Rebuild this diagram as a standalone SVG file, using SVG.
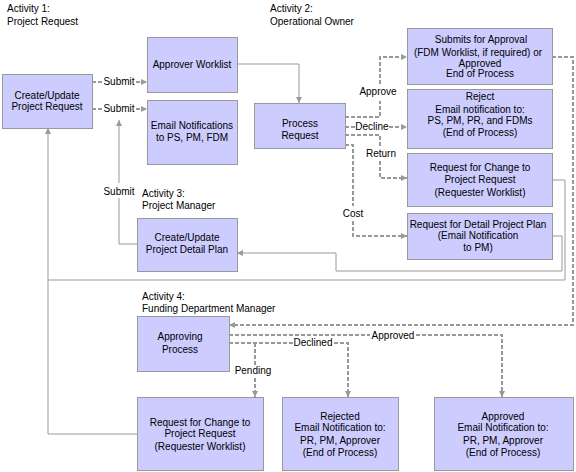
<svg xmlns="http://www.w3.org/2000/svg" width="576" height="472" viewBox="0 0 576 472">
<defs>
<style>
text{font-family:"Liberation Sans",Arial,sans-serif;font-size:10px;fill:#000}
.c{text-anchor:middle}
.box{fill:#CCCCFF;stroke:#999999;stroke-width:1}
.s{fill:none;stroke:#999999;stroke-width:1}
.d{fill:none;stroke:#999999;stroke-width:2;stroke-dasharray:4,2}
.a{marker-end:url(#ah)}
</style>
<marker id="ah" markerUnits="userSpaceOnUse" markerWidth="6" markerHeight="6" refX="6" refY="3" orient="auto">
<path d="M0,0 L6,3 L0,6 z" fill="#999999"/>
</marker>
</defs>
<rect width="576" height="472" fill="#ffffff"/>

<g id="lanes">
<text x="7" y="12">Activity 1:</text>
<text x="7" y="25">Project Request</text>
<text x="270" y="12">Activity 2:</text>
<text x="270" y="25">Operational Owner</text>
<text x="142" y="197">Activity 3:</text>
<text x="142" y="209">Project Manager</text>
<text x="142" y="300">Activity 4:</text>
<text x="142" y="312">Funding Department Manager</text>
</g>

<g id="connectors">
<path class="d" d="M92,82 H102"/>
<path class="d a" d="M136,82 H147"/>
<text class="c" x="119" y="85">Submit</text>
<path class="d" d="M92,109 H102"/>
<path class="d a" d="M136,109 H147"/>
<text class="c" x="119" y="112">Submit</text>
<path class="s a" d="M237,64 H299 V103"/>
<path class="s" d="M137,244 H119 V198"/>
<path class="s a" d="M119,183 V120"/>
<text class="c" x="119" y="195">Submit</text>
<path class="s a" d="M137,434 H48 V128"/>
<path class="s" d="M552,180 H565 V280 H48"/>
<path class="s a" d="M552,236 H562 V271 H336 V253 H237"/>
<path class="d" d="M345,117 H380 V101"/>
<path class="d a" d="M380,84 V57 H407"/>
<text class="c" x="378" y="95">Approve</text>
<path class="d" d="M345,127 H356"/>
<path class="d a" d="M389,127 H407"/>
<text class="c" x="372" y="130">Decline</text>
<path class="d" d="M345,135 H380 V146"/>
<path class="d a" d="M380,161 V178 H407"/>
<text class="c" x="381" y="157">Return</text>
<path class="d" d="M345,145 H353 V206"/>
<path class="d a" d="M353,221 V236 H407"/>
<text class="c" x="353" y="217">Cost</text>
<path class="d a" d="M552,57 H573 V325 H229"/>
<path class="d" d="M229,335 H370"/>
<path class="d a" d="M416,335 H502 V397"/>
<text class="c" x="393" y="339">Approved</text>
<path class="d" d="M229,343 H293"/>
<path class="d a" d="M334,343 H348 V397"/>
<text class="c" x="313" y="346">Declined</text>
<path class="d" d="M255,343 V365"/>
<path class="d a" d="M255,378 V397"/>
<text class="c" x="253" y="374">Pending</text>
</g>

<g id="create-project-request">
<rect class="box" x="2.5" y="74.5" width="90" height="54"/>
<text class="c" x="47" y="99">Create/Update</text>
<text class="c" x="47" y="110">Project Request</text>
</g>
<g id="approver-worklist">
<rect class="box" x="147.5" y="37.5" width="90" height="55"/>
<text class="c" x="192" y="68">Approver Worklist</text>
</g>
<g id="email-notifications">
<rect class="box" x="147.5" y="100.5" width="90" height="64"/>
<text class="c" x="192" y="129">Email Notifications</text>
<text class="c" x="192" y="141">to PS, PM, FDM</text>
</g>
<g id="process-request">
<rect class="box" x="254.5" y="103.5" width="91" height="45"/>
<text class="c" x="300" y="127">Process</text>
<text class="c" x="300" y="139">Request</text>
</g>
<g id="submits-for-approval">
<rect class="box" x="407.5" y="28.5" width="145" height="56"/>
<text class="c" x="481" y="43">Submits for Approval</text>
<text class="c" x="478" y="56">(FDM Worklist, if required) or</text>
<text class="c" x="480" y="67">Approved</text>
<text class="c" x="480" y="77">End of Process</text>
</g>
<g id="reject">
<rect class="box" x="407.5" y="89.5" width="145" height="59"/>
<text class="c" x="480" y="100">Reject</text>
<text class="c" x="480" y="113">Email notification to:</text>
<text class="c" x="480" y="124">PS, PM, PR, and FDMs</text>
<text class="c" x="480" y="136">(End of Process)</text>
</g>
<g id="request-change-1">
<rect class="box" x="407.5" y="153.5" width="145" height="53"/>
<text class="c" x="480" y="171">Request for Change to</text>
<text class="c" x="480" y="183">Project Request</text>
<text class="c" x="480" y="196">(Requester Worklist)</text>
</g>
<g id="request-detail-plan">
<rect class="box" x="407.5" y="213.5" width="145" height="46"/>
<text class="c" x="478" y="228">Request for Detail Project Plan</text>
<text class="c" x="478" y="239">(Email Notification</text>
<text class="c" x="478" y="251">to PM)</text>
</g>
<g id="create-detail-plan">
<rect class="box" x="137.5" y="218.5" width="100" height="53"/>
<text class="c" x="187" y="241">Create/Update</text>
<text class="c" x="187" y="253">Project Detail Plan</text>
</g>
<g id="approving-process">
<rect class="box" x="137.5" y="316.5" width="92" height="55"/>
<text class="c" x="180" y="340">Approving</text>
<text class="c" x="180" y="353">Process</text>
</g>
<g id="request-change-2">
<rect class="box" x="137.5" y="397.5" width="126" height="73"/>
<text class="c" x="200" y="426">Request for Change to</text>
<text class="c" x="200" y="437">Project Request</text>
<text class="c" x="200" y="450">(Requester Worklist)</text>
</g>
<g id="rejected">
<rect class="box" x="282.5" y="397.5" width="116" height="73"/>
<text class="c" x="340" y="420">Rejected</text>
<text class="c" x="340" y="431">Email Notification to:</text>
<text class="c" x="340" y="444">PR, PM, Approver</text>
<text class="c" x="340" y="456">(End of Process)</text>
</g>
<g id="approved">
<rect class="box" x="434.5" y="397.5" width="139" height="73"/>
<text class="c" x="503" y="420">Approved</text>
<text class="c" x="503" y="431">Email Notification to:</text>
<text class="c" x="503" y="444">PR, PM, Approver</text>
<text class="c" x="503" y="456">(End of Process)</text>
</g>
</svg>
